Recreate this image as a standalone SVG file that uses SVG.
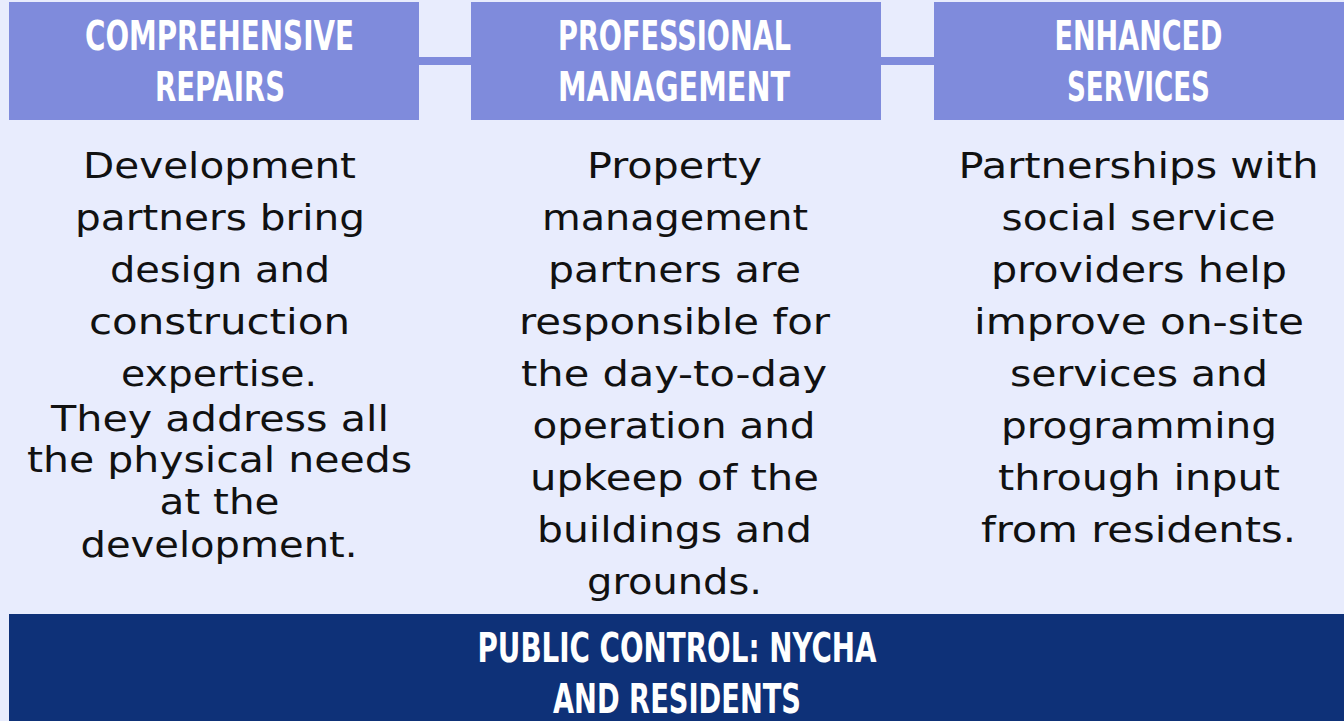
<svg xmlns="http://www.w3.org/2000/svg" width="1344" height="721" viewBox="0 0 1344 721">
<style>
.hdr{fill:#7f8bdc}
.conn{fill:#7f8bdc}
.ht{font-family:"Liberation Sans Narrow","DejaVu Sans Condensed","Liberation Sans",sans-serif;font-weight:bold;font-size:40px;fill:#ffffff;text-anchor:middle}
.bt{font-family:"DejaVu Sans","Open Sans",sans-serif;font-size:35px;fill:#111111;text-anchor:middle}
</style>
<rect x="0" y="0" width="1344" height="721" fill="#e8ecfd"/>
<g id="connectors">
<rect class="conn" x="419" y="57" width="52" height="8"/>
<rect class="conn" x="881" y="57" width="53" height="8"/>
</g>
<g id="node-repairs">
<rect class="hdr" x="9" y="2" width="410" height="118"/>
<text class="ht" x="219.5" y="50" textLength="269" lengthAdjust="spacingAndGlyphs">COMPREHENSIVE</text>
<text class="ht" x="220" y="101" textLength="130" lengthAdjust="spacingAndGlyphs">REPAIRS</text>
<g class="bt">
<text x="219.5" y="178" textLength="273" lengthAdjust="spacingAndGlyphs">Development</text>
<text x="220" y="230" textLength="290" lengthAdjust="spacingAndGlyphs">partners bring</text>
<text x="220" y="282" textLength="220" lengthAdjust="spacingAndGlyphs">design and</text>
<text x="219.5" y="334" textLength="261" lengthAdjust="spacingAndGlyphs">construction</text>
<text x="219" y="385.5" textLength="196" lengthAdjust="spacingAndGlyphs">expertise.</text>
<text x="220" y="430.5" textLength="338" lengthAdjust="spacingAndGlyphs">They address all</text>
<text x="219.5" y="472" textLength="385" lengthAdjust="spacingAndGlyphs">the physical needs</text>
<text x="219.5" y="514" textLength="120" lengthAdjust="spacingAndGlyphs">at the</text>
<text x="219" y="556.5" textLength="277" lengthAdjust="spacingAndGlyphs">development.</text>
</g>
</g>
<g id="node-management">
<rect class="hdr" x="471" y="2" width="410" height="118"/>
<text class="ht" x="674.5" y="50" textLength="233" lengthAdjust="spacingAndGlyphs">PROFESSIONAL</text>
<text class="ht" x="674" y="101" textLength="232" lengthAdjust="spacingAndGlyphs">MANAGEMENT</text>
<g class="bt">
<text x="674.5" y="178" textLength="175" lengthAdjust="spacingAndGlyphs">Property</text>
<text x="675" y="230" textLength="266" lengthAdjust="spacingAndGlyphs">management</text>
<text x="674.5" y="282" textLength="253" lengthAdjust="spacingAndGlyphs">partners are</text>
<text x="674.5" y="334" textLength="311" lengthAdjust="spacingAndGlyphs">responsible for</text>
<text x="674" y="386" textLength="306" lengthAdjust="spacingAndGlyphs">the day-to-day</text>
<text x="674" y="438" textLength="283" lengthAdjust="spacingAndGlyphs">operation and</text>
<text x="674.5" y="490" textLength="289" lengthAdjust="spacingAndGlyphs">upkeep of the</text>
<text x="674.5" y="542" textLength="275" lengthAdjust="spacingAndGlyphs">buildings and</text>
<text x="674.5" y="594" textLength="175" lengthAdjust="spacingAndGlyphs">grounds.</text>
</g>
</g>
<g id="node-services">
<rect class="hdr" x="934" y="2" width="410" height="118"/>
<text class="ht" x="1138.5" y="50" textLength="168" lengthAdjust="spacingAndGlyphs">ENHANCED</text>
<text class="ht" x="1138.5" y="101" textLength="143" lengthAdjust="spacingAndGlyphs">SERVICES</text>
<g class="bt">
<text x="1138.5" y="178" textLength="360" lengthAdjust="spacingAndGlyphs">Partnerships with</text>
<text x="1138.5" y="230" textLength="274" lengthAdjust="spacingAndGlyphs">social service</text>
<text x="1139" y="282" textLength="296" lengthAdjust="spacingAndGlyphs">providers help</text>
<text x="1139" y="334" textLength="330" lengthAdjust="spacingAndGlyphs">improve on-site</text>
<text x="1139" y="386" textLength="258" lengthAdjust="spacingAndGlyphs">services and</text>
<text x="1139" y="438" textLength="276" lengthAdjust="spacingAndGlyphs">programming</text>
<text x="1139" y="490" textLength="282" lengthAdjust="spacingAndGlyphs">through input</text>
<text x="1138.5" y="542" textLength="315" lengthAdjust="spacingAndGlyphs">from residents.</text>
</g>
</g>
<g id="node-public-control">
<rect x="9" y="614" width="1335" height="107" fill="#0e3178"/>
<text class="ht" x="677" y="662" textLength="399" lengthAdjust="spacingAndGlyphs">PUBLIC CONTROL: NYCHA</text>
<text class="ht" x="677" y="713" textLength="248" lengthAdjust="spacingAndGlyphs">AND RESIDENTS</text>
</g>
</svg>
